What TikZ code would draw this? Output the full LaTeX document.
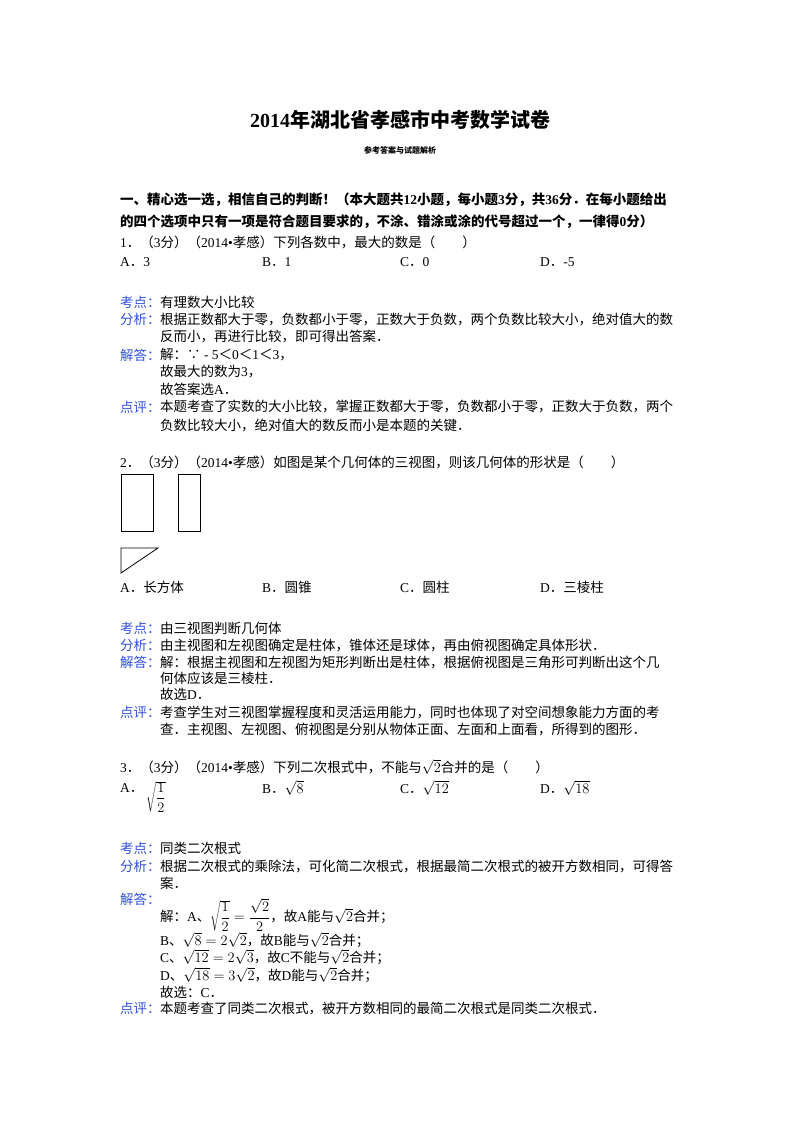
\documentclass[tikz,border=0pt]{standalone}
\usepackage{fontspec}
\setmainfont{Liberation Serif}
\newfontfamily\cjk{Noto Sans CJK SC}
\newcommand{\C}[1]{{\cjk #1}}
\newcommand{\dfr}[2]{{\displaystyle\frac{#1}{#2}}}
\definecolor{lab}{HTML}{3050E0}
\begin{document}
\begin{tikzpicture}[x=1pt,y=-1pt,
  t/.style={anchor=west,inner sep=0pt,font=\fontsize{13.5}{14}\selectfont},
  lb/.style={t,text=lab},
  fig/.style={draw,line width=0.8pt}]
\useasboundingbox (0,0) rectangle (800,1132);
\fill[white] (0,0) rectangle (800,1132);
\node[inner sep=0pt,font=\fontsize{20}{22}\selectfont\bfseries] (title) at (400,120) {2014\C{\bfseries 年湖北省孝感市中考数学试卷}};
\node[inner sep=0pt,font=\fontsize{8}{9}\selectfont] (sub) at (400,150) {\C{\bfseries 参考答案与试题解析}};
\node[t] (h1) at (120,200) {\C{\bfseries 一、精心选一选，相信自己的判断！（本大题共}\textbf{12}\C{\bfseries 小题，每小题}\textbf{3}\C{\bfseries 分，共}\textbf{36}\C{\bfseries 分．在每小题给出}};
\node[t] (h2) at (120,222) {\C{\bfseries 的四个选项中只有一项是符合题目要求的，不涂、错涂或涂的代号超过一个，一律得}\textbf{0}\C{\bfseries 分）}};
% Q1
\node[t] (q1) at (120,242) {1\C{．（}3\C{分）（}2014•\C{孝感）下列各数中，最大的数是（\quad\quad）}};
\node[t] (q1a) at (120,262) {A\C{．}3};
\node[t] (q1b) at (262,262) {B\C{．}1};
\node[t] (q1c) at (400,262) {C\C{．}0};
\node[t] (q1d) at (540,262) {D\C{．}-5};
\node[lb] (k1) at (120,302) {\C{考点：}};
\node[t] (k1t) at (160,302) {\C{有理数大小比较}};
\node[lb] (f1) at (120,319) {\C{分析：}};
\node[t] (f1t) at (160,319) {\C{根据正数都大于零，负数都小于零，正数大于负数，两个负数比较大小，绝对值大的数}};
\node[t] (f1u) at (160,337) {\C{反而小，再进行比较，即可得出答案．}};
\node[lb] (j1) at (120,355) {\C{解答：}};
\node[t] (j1t) at (160,355) {\C{解：∵} - 5\C{＜}0\C{＜}1\C{＜}3\C{，}};
\node[t] (j1u) at (160,372) {\C{故最大的数为}3\C{，}};
\node[t] (j1v) at (160,389) {\C{故答案选}A\C{．}};
\node[lb] (d1) at (120,407) {\C{点评：}};
\node[t] (d1t) at (160,407) {\C{本题考查了实数的大小比较，掌握正数都大于零，负数都小于零，正数大于负数，两个}};
\node[t] (d1u) at (160,425) {\C{负数比较大小，绝对值大的数反而小是本题的关键．}};
% Q2
\node[t] (q2) at (120,462) {2\C{．（}3\C{分）（}2014•\C{孝感）如图是某个几何体的三视图，则该几何体的形状是（\quad\quad）}};
\draw[fig] (121,474) rectangle (153,531);
\draw[fig] (178,474) rectangle (200,531);
\draw[fig] (121,548) -- (158,548) -- (121,573) -- cycle;
\node[t] (q2a) at (120,587) {A\C{．长方体}};
\node[t] (q2b) at (262,587) {B\C{．圆锥}};
\node[t] (q2c) at (400,587) {C\C{．圆柱}};
\node[t] (q2d) at (540,587) {D\C{．三棱柱}};
\node[lb] (k2) at (120,628) {\C{考点：}};
\node[t] (k2t) at (160,628) {\C{由三视图判断几何体}};
\node[lb] (f2) at (120,645) {\C{分析：}};
\node[t] (f2t) at (160,645) {\C{由主视图和左视图确定是柱体，锥体还是球体，再由俯视图确定具体形状．}};
\node[lb] (j2) at (120,662) {\C{解答：}};
\node[t] (j2t) at (160,662) {\C{解：根据主视图和左视图为矩形判断出是柱体，根据俯视图是三角形可判断出这个几}};
\node[t] (j2u) at (160,678) {\C{何体应该是三棱柱．}};
\node[t] (j2v) at (160,694) {\C{故选}D\C{．}};
\node[lb] (d2) at (120,712) {\C{点评：}};
\node[t] (d2t) at (160,712) {\C{考查学生对三视图掌握程度和灵活运用能力，同时也体现了对空间想象能力方面的考}};
\node[t] (d2u) at (160,729) {\C{查．主视图、左视图、俯视图是分别从物体正面、左面和上面看，所得到的图形．}};
% Q3
\node[t] (q3) at (120,767) {3\C{．（}3\C{分）（}2014•\C{孝感）下列二次根式中，不能与}$\sqrt{2}$\C{合并的是（\quad\quad）}};
\node[t] (q3a) at (120,788) {A\C{．}};
\node[t] (q3ar) at (146,797) {$\sqrt{\dfr{1}{2}}$};
\node[t] (q3b) at (262,788) {B\C{．}$\sqrt{8}$};
\node[t] (q3c) at (400,788) {C\C{．}$\sqrt{12}$};
\node[t] (q3d) at (540,788) {D\C{．}$\sqrt{18}$};
\node[lb] (k3) at (120,848) {\C{考点：}};
\node[t] (k3t) at (160,848) {\C{同类二次根式}};
\node[lb] (f3) at (120,866) {\C{分析：}};
\node[t] (f3t) at (160,866) {\C{根据二次根式的乘除法，可化简二次根式，根据最简二次根式的被开方数相同，可得答}};
\node[t] (f3u) at (160,883) {\C{案．}};
\node[lb] (j3) at (120,899) {\C{解答：}};
\node[t] (j3t) at (160,915) {\C{解：}A\C{、}$\sqrt{\dfr{1}{2}}=\dfr{\sqrt{2}}{2}$\C{，故}A\C{能与}$\sqrt{2}$\C{合并；}};
\node[t] (j3b) at (160,940) {B\C{、}$\sqrt{8}=2\sqrt{2}$\C{，故}B\C{能与}$\sqrt{2}$\C{合并；}};
\node[t] (j3c) at (160,957) {C\C{、}$\sqrt{12}=2\sqrt{3}$\C{，故}C\C{不能与}$\sqrt{2}$\C{合并；}};
\node[t] (j3d) at (160,975) {D\C{、}$\sqrt{18}=3\sqrt{2}$\C{，故}D\C{能与}$\sqrt{2}$\C{合并；}};
\node[t] (j3e) at (160,992) {\C{故选：}C\C{．}};
\node[lb] (d3) at (120,1008) {\C{点评：}};
\node[t] (d3t) at (160,1008) {\C{本题考查了同类二次根式，被开方数相同的最简二次根式是同类二次根式．}};
\end{tikzpicture}
\end{document}
